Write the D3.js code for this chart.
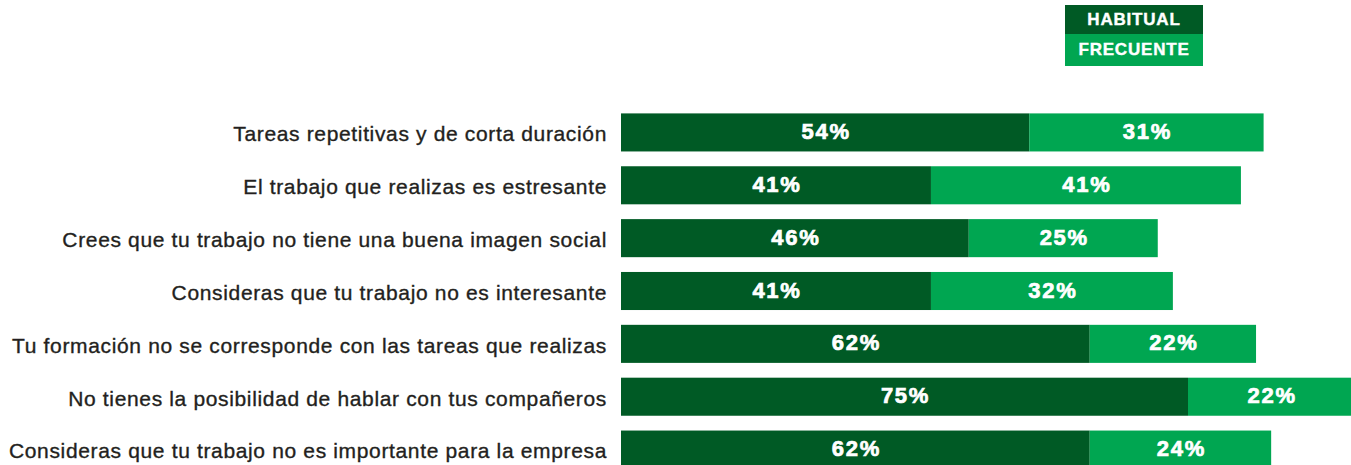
<!DOCTYPE html>
<html>
<head>
<meta charset="utf-8">
<script src="https://cdn.jsdelivr.net/npm/d3@7"></script>
<style>
  body { margin: 0; background: #fff; }
  svg { display: block; font-family: "Liberation Sans", Arial, sans-serif; }
</style>
</head>
<body>
<svg id="chart" width="1351" height="465"></svg>
<script>
const categories = [
    "Tareas repetitivas y de corta duración",
    "El trabajo que realizas es estresante",
    "Crees que tu trabajo no tiene una buena imagen social",
    "Consideras que tu trabajo no es interesante",
    "Tu formación no se corresponde con las tareas que realizas",
    "No tienes la posibilidad de hablar con tus compañeros",
    "Consideras que tu trabajo no es importante para la empresa"
];
const habitual = [54, 41, 46, 41, 62, 75, 62];
const frecuente = [31, 41, 25, 32, 22, 22, 24];
const seriesNames = ["HABITUAL", "FRECUENTE"];
const colors = ["#005a25", "#00a651"];

const svg = d3.select("#chart");

const x = d3.scaleLinear().domain([0, 100]).range([621, 621 + 756]);
const y = d3.scaleBand().domain(categories).range([106, 476]).paddingInner(0.28).paddingOuter(0.14);

const rows = categories.map((c, i) => ({ cat: c, h: habitual[i], f: frecuente[i] }));

const g = svg.selectAll("g.row").data(rows).enter().append("g").attr("class", "row");

// dark segment (habitual)
g.append("rect")
    .attr("x", x(0))
    .attr("y", d => y(d.cat))
    .attr("width", d => x(d.h) - x(0))
    .attr("height", y.bandwidth())
    .attr("fill", colors[0]);

// light segment (frecuente), stacked after the dark one
g.append("rect")
    .attr("x", d => x(d.h))
    .attr("y", d => y(d.cat))
    .attr("width", d => x(d.h + d.f) - x(d.h))
    .attr("height", y.bandwidth())
    .attr("fill", colors[1]);

// value labels
function valueLabel(sel, cx, val) {
    sel.append("text")
        .attr("x", cx)
        .attr("y", d => y(d.cat) + y.bandwidth() / 2)
        .attr("dy", "0.3em")
        .attr("text-anchor", "middle")
        .attr("fill", "#fff")
        .attr("stroke", "#fff")
        .attr("stroke-width", 0.7)
        .attr("font-weight", "bold")
        .attr("font-size", 22)
        .attr("letter-spacing", 1.7)
        .text(d => val(d) + "%");
}
valueLabel(g, d => (x(0) + x(d.h)) / 2 + 1, d => d.h);
valueLabel(g, d => (x(d.h) + x(d.h + d.f)) / 2 + 1, d => d.f);

// category labels
g.append("text")
    .attr("x", 607)
    .attr("y", d => y(d.cat) + y.bandwidth() / 2)
    .attr("dy", "0.42em")
    .attr("text-anchor", "end")
    .attr("fill", "#231f20")
    .attr("stroke", "#231f20")
    .attr("stroke-width", 0.35)
    .attr("font-size", 21)
    .attr("letter-spacing", 0.65)
    .text(d => d.cat);

// legend
const legend = svg.append("g").attr("transform", "translate(1065,5)");
seriesNames.forEach((name, i) => {
    legend.append("rect")
        .attr("x", 0)
        .attr("y", i * 29)
        .attr("width", 138)
        .attr("height", i === 0 ? 29 : 32)
        .attr("fill", colors[i]);
    legend.append("text")
        .attr("x", 69)
        .attr("y", i === 0 ? 20 : 50)
        .attr("text-anchor", "middle")
        .attr("fill", "#fff")
        .attr("stroke", "#fff")
        .attr("stroke-width", 0.4)
        .attr("font-weight", "bold")
        .attr("font-size", 17)
        .attr("letter-spacing", 0.8)
        .text(name);
});
</script>
</body>
</html>
